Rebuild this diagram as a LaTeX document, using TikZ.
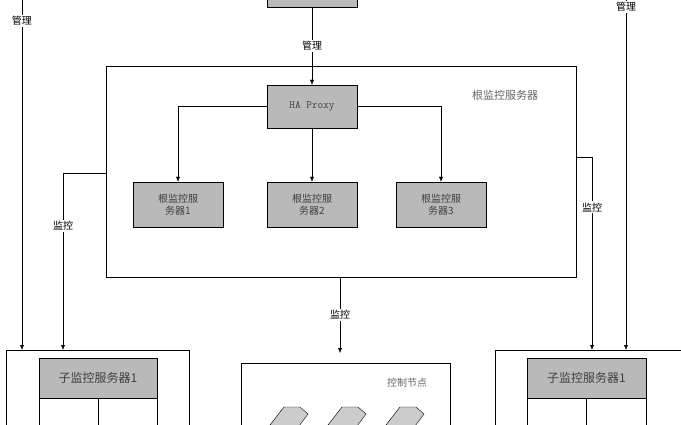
\documentclass[tikz,border=0pt]{standalone}
\usepackage{fontspec}
\newfontfamily\cjk{Noto Sans CJK SC}
\usetikzlibrary{positioning,arrows.meta}
\begin{document}
\begin{tikzpicture}[x=1pt,y=-1pt,>={Latex[length=5pt,width=4pt]},font=\cjk\fontsize{10}{12}\selectfont,
    graybox/.style={draw,fill=gray!55,minimum width=90pt,inner sep=1pt,align=center,text=black!75},
    frame/.style={draw,fill=white},
    lbl/.style={fill=white,inner sep=1.5pt}]
    \useasboundingbox (0,0) rectangle (681,425);
    % frames
    \draw[frame] (106,66) rectangle (576,277);
    \node[text=black!60,font=\cjk\fontsize{11}{13}\selectfont] (rootlbl) at (505,95) {根监控服务器};
    \draw[frame] (6,350) rectangle (189,440);
    \draw[frame] (241,363) rectangle (450,440);
    \node[text=black!60] (ctrllbl) at (407,383) {控制节点};
    \draw[frame] (495,350) rectangle (690,440);
    % top
    \node[graybox,minimum height=30pt] (top) at (312,-8) {};
    \node[graybox,minimum height=43pt,font=\ttfamily\fontsize{11}{13}\selectfont] (proxy) at (312,106.5) {HA Proxy};
    \node[graybox,minimum height=45pt] (root1) at (178,204.5) {根监控服\\务器1};
    \node[graybox,minimum height=45pt] (root2) at (312,204.5) {根监控服\\务器2};
    \node[graybox,minimum height=45pt] (root3) at (441,204.5) {根监控服\\务器3};
    % sub servers
    \node[graybox,minimum width=118pt,minimum height=40pt,font=\cjk\fontsize{12}{14}\selectfont] (subL) at (98,378) {子监控服务器1};
    \node[graybox,minimum width=119pt,minimum height=40pt,font=\cjk\fontsize{12}{14}\selectfont] (subR) at (586.5,378) {子监控服务器1};
    \draw (subL.south west) rectangle (157,440) (98,398) -- (98,440);
    \draw (subR.south west) rectangle (646,440) (586,398) -- (586,440);
    % nodes inside control box
    \foreach \x in {270,328,386}
        \draw[fill=gray!40] (\x,425) -- (\x+14,407) -- (\x+30,407) -- (\x+38,414) -- (\x+26,430) -- cycle;
    % connectors
    \coordinate (mgL) at (22,0);
    \coordinate (mgR) at (626,0);
    \draw[->] (top) -- node[lbl] {管理} (proxy);
    \draw[->] (proxy.west) -| (root1);
    \draw[->] (proxy) -- (root2);
    \draw[->] (proxy.east) -| (root3);
    \draw[->] (mgL) -- node[lbl,pos=0.06] {管理} (22,350);
    \draw[->] (mgR) -- node[lbl,pos=0.02] {管理} (626,350);
    \draw[->] (106,173) -| node[lbl,pos=0.65] {监控} (63,350);
    \draw[->] (576,157) -| node[lbl,pos=0.63] {监控} (592,350);
    \draw[->] (340,277) -- node[lbl] {监控} (340,353);
\end{tikzpicture}
\end{document}
